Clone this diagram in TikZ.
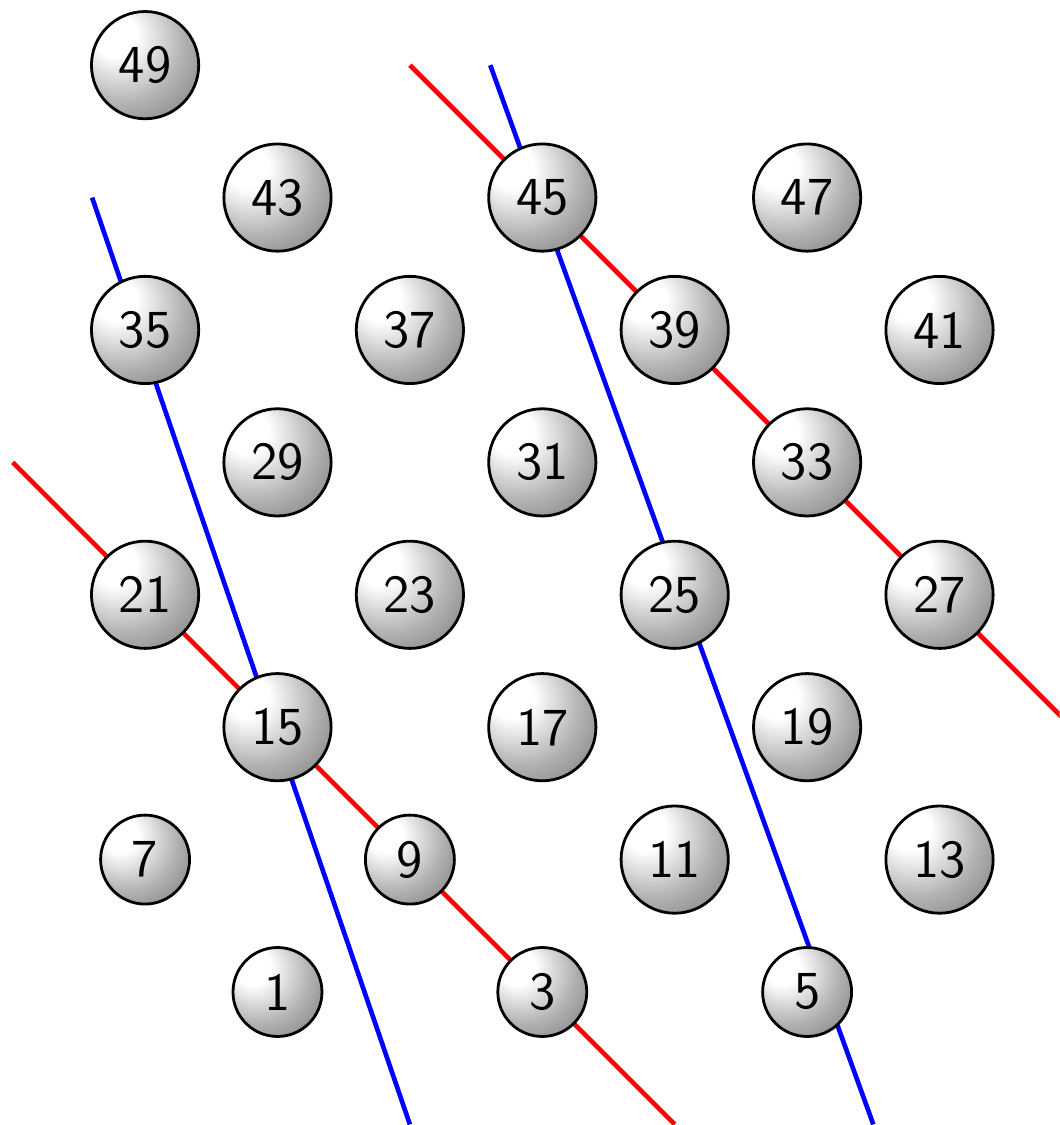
\documentclass[tikz,border=0pt]{standalone}
\pgfdeclareradialshading{myball}{\pgfpoint{-16bp}{16bp}}{%
  color(0bp)=(white); color(10bp)=(white); color(28bp)=(black!30); color(45bp)=(black!52); color(62bp)=(black!64); color(80bp)=(black!64)}
\tikzset{
  bigball/.style={circle, draw=black, line width=0.6pt, shading=myball, minimum size=0.81cm, inner sep=0pt, font=\sffamily\fontsize{11.5}{13}\selectfont},
  smallball/.style={bigball, minimum size=0.672cm},
  redline/.style={draw=red, line width=1pt},
  blueline/.style={draw=blue, line width=1pt}
}
\begin{document}
\begin{tikzpicture}
\clip (-0.0957,-1.0045) rectangle (7.907,7.492);
% line end points
\coordinate (r1a) at (0,4);
\coordinate (r1b) at (5,-1);
\coordinate (r2a) at (3,7);
\coordinate (r2b) at (8,2);
\coordinate (b1a) at (0.6,6);
\coordinate (b1b) at (3,-1);
\coordinate (b2a) at (3.607,7);
\coordinate (b2b) at (6.5,-1);
\draw[redline] (r1a) -- (r1b);
\draw[redline] (r2a) -- (r2b);
\draw[blueline] (b1a) -- (b1b);
\draw[blueline] (b2a) -- (b2b);
% balls
\node[smallball] (n1) at (2,0) {1};
\node[smallball] (n3) at (4,0) {3};
\node[smallball] (n5) at (6,0) {5};
\node[smallball] (n7) at (1,1) {7};
\node[smallball] (n9) at (3,1) {9};
\node[bigball] (n11) at (5,1) {11};
\node[bigball] (n13) at (7,1) {13};
\node[bigball] (n15) at (2,2) {15};
\node[bigball] (n17) at (4,2) {17};
\node[bigball] (n19) at (6,2) {19};
\node[bigball] (n21) at (1,3) {21};
\node[bigball] (n23) at (3,3) {23};
\node[bigball] (n25) at (5,3) {25};
\node[bigball] (n27) at (7,3) {27};
\node[bigball] (n29) at (2,4) {29};
\node[bigball] (n31) at (4,4) {31};
\node[bigball] (n33) at (6,4) {33};
\node[bigball] (n35) at (1,5) {35};
\node[bigball] (n37) at (3,5) {37};
\node[bigball] (n39) at (5,5) {39};
\node[bigball] (n41) at (7,5) {41};
\node[bigball] (n43) at (2,6) {43};
\node[bigball] (n45) at (4,6) {45};
\node[bigball] (n47) at (6,6) {47};
\node[bigball] (n49) at (1,7) {49};
\end{tikzpicture}
\end{document}
